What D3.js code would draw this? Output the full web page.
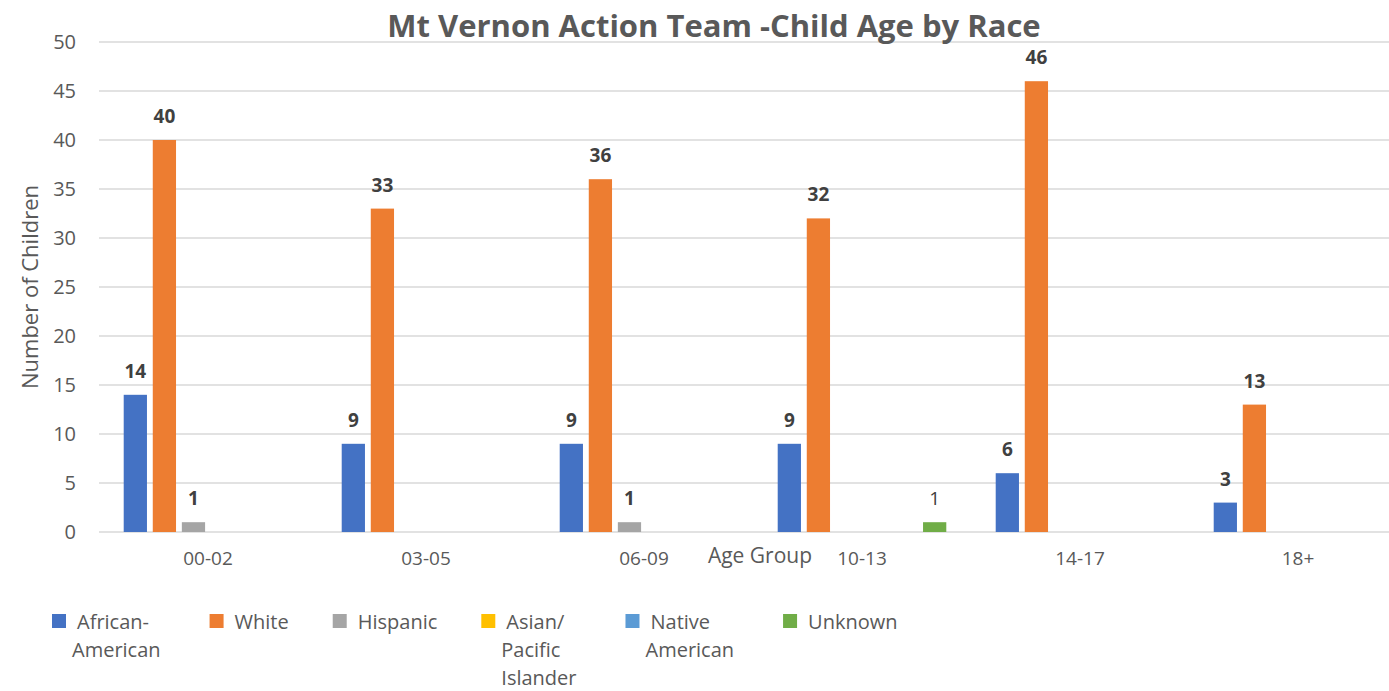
<!DOCTYPE html>
<html>
<head>
<meta charset="utf-8">
<script src="https://cdn.jsdelivr.net/npm/d3@7"></script>
<style>
	body { margin: 0; background: #fff; }
	svg { display: block; font-family: 'Open Sans', sans-serif; }
	svg text { font-family: 'Open Sans', sans-serif; }
	.grid-line { stroke: #d9d9d9; stroke-width: 1.5; }
	.tick text { fill: #595959; }
</style>
</head>
<body>
<div id="chart"></div>
<script>
const ageGroups = ['00-02', '03-05', '06-09', '10-13', '14-17', '18+'];
const races = ['African-American', 'White', 'Hispanic', 'Asian/Pacific Islander', 'Native American', 'Unknown'];
const legendLines = [
	['African-', 'American'],
	['White'],
	['Hispanic'],
	['Asian/', 'Pacific', 'Islander'],
	['Native', 'American'],
	['Unknown'],
];
const africanAmerican = [14, 9, 9, 9, 6, 3];
const white = [40, 33, 36, 32, 46, 13];
const hispanic = [1, 0, 1, 0, 0, 0];
const asianPacific = [0, 0, 0, 0, 0, 0];
const nativeAmerican = [0, 0, 0, 0, 0, 0];
const unknown = [0, 0, 0, 1, 0, 0];
const yTicks = [0, 5, 10, 15, 20, 25, 30, 35, 40, 45, 50];

const seriesValues = [africanAmerican, white, hispanic, asianPacific, nativeAmerican, unknown];
const colors = ['#4472c4', '#ed7d31', '#a5a5a5', '#ffc000', '#5b9bd5', '#70ad47'];

const width = 1389, height = 691;
const plot = { left: 99, right: 1407, top: 42, bottom: 532 };

const svg = d3.select('#chart')
	.append('svg')
	.attr('width', width)
	.attr('height', height);

const x0 = d3.scaleBand()
	.domain(ageGroups)
	.range([plot.left, plot.right])
	.paddingInner(0.2)
	.paddingOuter(0.1);

const x1 = d3.scaleBand()
	.domain(races)
	.range([0, x0.bandwidth()])
	.paddingInner(0.2)
	.paddingOuter(0.1);

const y = d3.scaleLinear().domain([0, 50]).range([plot.bottom, plot.top]);

// grid
svg.append('g')
	.selectAll('line')
	.data(yTicks)
	.enter()
	.append('line')
	.attr('class', 'grid-line')
	.attr('x1', plot.left)
	.attr('x2', width)
	.attr('y1', d => y(d))
	.attr('y2', d => y(d));

// y axis
const yAxis = svg.append('g')
	.attr('transform', 'translate(' + plot.left + ',0)')
	.call(d3.axisLeft(y).tickValues(yTicks).tickSize(0).tickPadding(23));
yAxis.select('.domain').remove();
yAxis.attr('font-family', null);
yAxis.selectAll('text').style('font-size', '20px');

// x axis
const xAxis = svg.append('g')
	.attr('transform', 'translate(0,' + plot.bottom + ')')
	.call(d3.axisBottom(x0).tickSize(0).tickPadding(20));
xAxis.select('.domain').remove();
xAxis.attr('font-family', null);
xAxis.selectAll('text').style('font-size', '19px');

// bars
const flat = [];
seriesValues.forEach((vals, si) => {
	vals.forEach((v, gi) => {
		flat.push({ group: ageGroups[gi], race: races[si], value: v, si: si });
	});
});

svg.append('g')
	.selectAll('rect')
	.data(flat.filter(d => d.value > 0))
	.enter()
	.append('rect')
	.attr('x', d => x0(d.group) + x1(d.race))
	.attr('y', d => y(d.value))
	.attr('width', x1.bandwidth())
	.attr('height', d => y(0) - y(d.value))
	.style('fill', d => colors[d.si]);

svg.append('g')
	.selectAll('text')
	.data(flat.filter(d => d.value > 0))
	.enter()
	.append('text')
	.attr('x', d => x0(d.group) + x1(d.race) + x1.bandwidth() / 2)
	.attr('y', d => y(d.value) - 17)
	.attr('text-anchor', 'middle')
	.style('font-size', '19px')
	.style('font-weight', d => (d.race === 'Unknown' ? 400 : 700))
	.style('fill', '#404040')
	.text(d => d.value);

// title
svg.append('text')
	.attr('x', 714)
	.attr('y', 37)
	.attr('text-anchor', 'middle')
	.style('font-size', '31px')
	.style('font-weight', 700)
	.style('fill', '#595959')
	.text('Mt Vernon Action Team -Child Age by Race');

// axis titles
svg.append('text')
	.attr('transform', 'translate(38,' + (plot.top + plot.bottom) / 2 + ') rotate(-90)')
	.attr('text-anchor', 'middle')
	.style('font-size', '22px')
	.style('fill', '#595959')
	.text('Number of Children');

svg.append('text')
	.attr('x', 760)
	.attr('y', 563)
	.attr('text-anchor', 'middle')
	.style('font-size', '21px')
	.style('fill', '#595959')
	.text('Age Group');

// legend
const legend = svg.append('g').attr('class', 'legend');
let lx = 52;
races.forEach((r, i) => {
	const item = legend.append('g').attr('transform', 'translate(' + lx + ',614)');
	item.append('rect')
		.attr('width', 14)
		.attr('height', 14)
		.style('fill', colors[i]);
	const txt = item.append('text')
		.style('font-size', '20px')
		.style('fill', '#595959');
	legendLines[i].forEach((ln, k) => {
		txt.append('tspan')
			.attr('x', k === 0 ? 25 : 20)
			.attr('y', 15 + k * 28)
			.text(ln);
	});
	let w = 0;
	txt.selectAll('tspan').each(function () {
		w = Math.max(w, this.getComputedTextLength());
	});
	lx += 22 + w + 47;
});
</script>
</body>
</html>
